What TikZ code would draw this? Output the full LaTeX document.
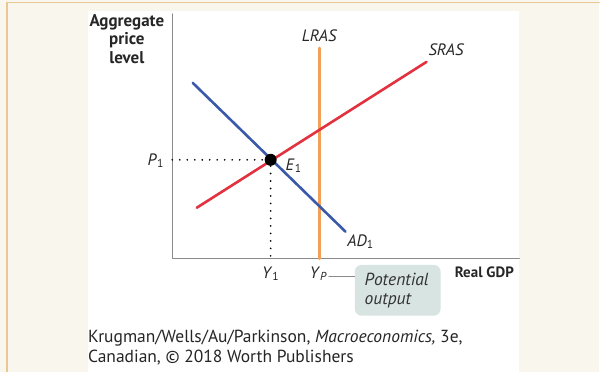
\documentclass[tikz,border=0pt]{standalone}
\usepackage{fontspec}
\setmainfont{PT Sans}
\usetikzlibrary{positioning}
\definecolor{cream}{HTML}{F9F6EE}
\definecolor{tan}{HTML}{E9C894}
\definecolor{adblue}{HTML}{3A59A8}
\definecolor{srasred}{HTML}{E2313F}
\definecolor{lrasorange}{HTML}{F2A058}
\definecolor{boxfill}{HTML}{D8E4E2}
\definecolor{axisgray}{HTML}{8A8A8A}
\newcommand{\lab}[2]{\textit{#1}\textsubscript{#2}}
\tikzset{
  axis/.style={axisgray, line width=1.2pt},
  curve/.style={line width=2.6pt},
  guide/.style={line width=1.9pt, dash pattern=on 0pt off 7.5pt, line cap=round},
  dot/.style={circle, fill=black, inner sep=0pt, minimum size=12pt},
  callout/.style={fill=boxfill, rounded corners=7pt, align=left, text width=66pt,
    inner xsep=10pt, inner ysep=8pt, font=\fontsize{17.5}{19}\selectfont\itshape, text=black!80},
  lbl/.style={font=\fontsize{16.5}{18}\selectfont, text=black!85}
}
\begin{document}
\begin{tikzpicture}[x=1pt, y=-1pt, line join=round, line cap=round]
% background
\fill[cream] (0,0) rectangle (600,372);
\fill[white] (88,11) rectangle (520,372);
\draw[tan, line width=1.5pt] (7,2.5) -- (600,2.5);
\draw[tan, line width=1.5pt] (7,2.5) -- (7,372);
% axes
\coordinate (O) at (172.5,259);
\coordinate (ytop) at (172.5,14);
\coordinate (xend) at (520,259);
\draw[axis] (ytop) -- (O) -- (xend);
\node[align=center, font=\fontsize{17}{18.5}\selectfont\bfseries, text=black!85] (ylab) at (127,39) {Aggregate\\price\\level};
\node[font=\fontsize{15}{16}\selectfont\bfseries, text=black!85] (xlab) at (485,273) {Real GDP};
% curves
\coordinate (lras0) at (320,48);
\coordinate (lras1) at (320,259);
\coordinate (sras0) at (197,208);
\coordinate (sras1) at (427,62);
\coordinate (ad0) at (193,83);
\coordinate (ad1) at (346,232);
\draw[curve, lrasorange] (lras0) -- (lras1);
\draw[curve, srasred] (sras0) -- (sras1);
\draw[curve, adblue] (ad0) -- (ad1);
\node[lbl] (lras) at (320,36) {\textit{LRAS}};
\node[lbl] (sras) at (447,50) {\textit{SRAS}};
\node[lbl] (ad) at (361,242) {\lab{AD}{1}};
% equilibrium
\node[dot] (e1) at (271,160) {};
\draw[guide] (O |- e1) -- (e1);
\draw[guide] (e1) -- (e1 |- O);
\node[lbl] (elab) at (294,166) {\lab{E}{1}};
\node[lbl] (p1) at (156,161) {\lab{P}{1}};
\node[lbl] (y1) at (271,274) {\lab{Y}{1}};
\node[lbl] (yp) at (319,274) {\lab{Y}{\textit{P}}};
\node[callout, anchor=north west] (pot) at (355,265) {Potential\\output};
\draw[axisgray, line width=0.9pt] (yp.east) ++(-2pt,-3pt) coordinate (yptip) -- (yptip -| pot.west);
% source line
\node[anchor=north west, align=left, font=\fontsize{17.5}{20}\selectfont, text=black!85, inner sep=0pt] (src) at (88,330)
  {Krugman/Wells/Au/Parkinson, \textit{Macroeconomics,} 3e,\\Canadian, © 2018 Worth Publishers};
\end{tikzpicture}
\end{document}
